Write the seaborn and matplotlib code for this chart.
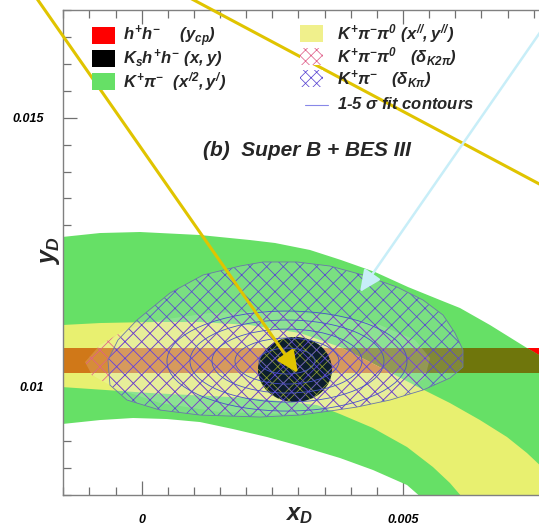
import numpy as np
import matplotlib
matplotlib.use("Agg")
import matplotlib.pyplot as plt
import seaborn as sns
from matplotlib.patches import Polygon, Ellipse, Rectangle
from matplotlib.ticker import MultipleLocator, FuncFormatter
from matplotlib.lines import Line2D

sns.set_theme(style="ticks")
plt.rcParams["font.family"] = ["Liberation Sans", "DejaVu Sans"]
plt.rcParams.update({
    "font.style": "italic",
    "font.weight": "bold",
    "mathtext.fontset": "custom",
    "mathtext.it": "Liberation Sans:italic:bold",
    "mathtext.rm": "Liberation Sans:bold",
    "mathtext.bf": "Liberation Sans:italic:bold",
    "mathtext.sf": "Liberation Sans:bold",
    "hatch.linewidth": 0.55,
})

SCALE = 1e-3  # all tables below are in units of 10^-3

# K+pi- (x'^2, y') allowed region: outline (upper edge, corner, lower edge)
kpi_x = [-1.946, -1.525, -0.798, -0.033, 1.116, 2.072, 2.551, 3.220, 3.814, 4.464,
         5.096, 5.708, 6.091, 6.665, 7.373, 7.602, 8.196, 8.770,
         8.770,
         5.517, 5.077, 4.426, 3.794, 3.029, 2.398, 1.747, 1.116, 0.484, -0.166,
         -0.798, -1.525, -1.946]
kpi_y = [12.746, 12.783, 12.857, 12.876, 12.820, 12.727, 12.672, 12.542, 12.356, 12.133,
         11.854, 11.613, 11.464, 11.148, 10.721, 10.591, 10.219, 9.848,
         7.340,
         7.804, 8.176, 8.455, 8.678, 8.900, 9.068, 9.216, 9.346, 9.402, 9.421,
         9.383, 9.309, 9.272]

# K+pi-pi0 (x'', y'') allowed region
kpipi0_x = [-1.946, -1.525, -0.798, 0.159, 1.116, 2.072, 3.029, 3.794, 4.368, 4.847,
            5.325, 5.899, 6.473, 6.990, 7.373, 7.717, 8.196, 8.578,
            6.435, 6.129, 5.899, 5.574, 5.077, 4.426, 3.794, 3.354, 2.072, 0.159,
            -1.525, -1.946]
kpipi0_y = [11.130, 11.148, 11.185, 11.204, 11.204, 11.148, 11.000, 10.740, 10.461, 10.219,
            9.978, 9.699, 9.383, 9.068, 8.770, 8.455, 7.990, 7.526,
            7.526, 7.953, 8.213, 8.510, 8.882, 9.235, 9.495, 9.662, 9.792, 9.885,
            9.996, 9.996]

# h+h- : y_CP measurement and its error
ycp_value = 10.483
ycp_error = 0.232

# Ks h+h- : (x, y) measurement
kshh_x, kshh_y = 2.933, 10.322
kshh_sx, kshh_sy = 0.708, 0.604

# strong phase delta_Kpi constraint region
dkpi_x = [-0.645, -0.454, -0.090, 0.542, 1.173, 1.881, 2.321, 2.972, 3.603, 4.235,
          4.885, 5.383, 5.766, 5.995, 6.148, 6.148, 5.899, 5.383, 4.751, 4.120,
          3.603, 3.029, 2.264, 1.116, 0.350, -0.281, -0.607]
dkpi_y = [10.498, 10.870, 11.241, 11.743, 12.077, 12.244, 12.319, 12.319, 12.244, 12.077,
          11.854, 11.613, 11.334, 11.000, 10.684, 10.368, 10.164, 9.941, 9.755, 9.625,
          9.551, 9.476, 9.439, 9.476, 9.569, 9.755, 10.033]

# strong phase delta_K2pi constraint region
dk2pi_x = [-1.085, -0.798, -0.320, 0.350, 1.307, 2.455, 3.603, 4.560, 5.230, 5.517,
           5.421, 4.942, 3.986, 2.838, 1.498, 0.350, -0.511, -0.951]
dk2pi_y = [10.461, 10.777, 11.055, 11.241, 11.371, 11.408, 11.334, 11.148, 10.870, 10.535,
           10.164, 9.848, 9.606, 9.495, 9.532, 9.699, 9.978, 10.219]

# combined fit: 1-5 sigma contours
fit_x, fit_y = 2.780, 10.479
fit_sigma = [1, 2, 3, 4, 5]
fit_half_w = [0.536, 0.995, 1.435, 1.856, 2.296]
fit_half_h = [0.241, 0.427, 0.594, 0.762, 0.929]

W, H = 539, 526
GREEN = "#66e066"
YELLOW = "#e8f070"
OLIVE = "#6f760c"
ORANGE = "#d07818"
BLUE_HATCH = "#5a46d2"
PINK_HATCH = "#e0608a"
CONTOUR = "#4850c8"

fig = plt.figure(figsize=(W / 100, H / 100), dpi=100)
fig.patch.set_facecolor("white")
ax = fig.add_axes([63.3 / W, (H - 494.5) / H, 522.6 / W, 484.5 / H])
ax.set_facecolor("white")
ax.set_xlim(-0.0015, 0.0085)
ax.set_ylim(0.008, 0.017)


def pts(xs, ys):
    return np.column_stack([np.asarray(xs) * SCALE, np.asarray(ys) * SCALE])


ylo = (ycp_value - ycp_error) * SCALE
yhi = (ycp_value + ycp_error) * SCALE

# h+h- band (visible where nothing else covers it)
ax.axhspan(ylo, yhi, color="#ff0000", lw=0, zorder=1)

green = Polygon(pts(kpi_x, kpi_y), closed=True, facecolor=GREEN, edgecolor="none", zorder=2)
ax.add_patch(green)
band_on_green = ax.axhspan(ylo, yhi, color=OLIVE, lw=0, zorder=3)
band_on_green.set_clip_path(green)

yellow = Polygon(pts(kpipi0_x, kpipi0_y), closed=True, facecolor=YELLOW, edgecolor="none", zorder=4)
ax.add_patch(yellow)
band_on_yellow = ax.axhspan(ylo, yhi, color=ORANGE, lw=0, zorder=5)
band_on_yellow.set_clip_path(yellow)

# delta_K2pi region
ax.add_patch(Polygon(pts(dk2pi_x, dk2pi_y), closed=True, facecolor="white", alpha=0.15,
                     edgecolor="none", zorder=6))
ax.add_patch(Polygon(pts(dk2pi_x, dk2pi_y), closed=True, facecolor="none",
                     edgecolor=PINK_HATCH, hatch="xx", lw=0, zorder=6.5))

# delta_Kpi region (light fill)
ax.add_patch(Polygon(pts(dkpi_x, dkpi_y), closed=True, facecolor="#d8dcff", alpha=0.18,
                     edgecolor="none", zorder=7))

# Ks h+h- measurement
ax.add_patch(Ellipse((kshh_x * SCALE, kshh_y * SCALE), 2 * kshh_sx * SCALE, 2 * kshh_sy * SCALE,
                     facecolor="#0c1e2e", edgecolor="#8fa030", hatch="xxx", lw=0, zorder=7.5))

# delta_Kpi region (hatch and outline)
ax.add_patch(Polygon(pts(dkpi_x, dkpi_y), closed=True, facecolor="none",
                     edgecolor=BLUE_HATCH, hatch="xx", lw=0, zorder=8.5))
ax.add_patch(Polygon(pts(dkpi_x, dkpi_y), closed=True, facecolor="none",
                     edgecolor="#6a78a8", lw=0.6, zorder=8.6))

# fit contours
for n, hw, hh in zip(fit_sigma, fit_half_w, fit_half_h):
    ax.add_patch(Ellipse((fit_x * SCALE, fit_y * SCALE), 2 * hw * SCALE, 2 * hh * SCALE,
                         facecolor="none", edgecolor=CONTOUR, lw=0.6, zorder=9))

# axes styling
ax.xaxis.set_major_locator(MultipleLocator(0.005))
ax.xaxis.set_minor_locator(MultipleLocator(0.0005))
ax.yaxis.set_major_locator(MultipleLocator(0.005))
ax.yaxis.set_minor_locator(MultipleLocator(0.0005))
fmt = FuncFormatter(lambda v, p: f"{round(v, 6):g}")
ax.xaxis.set_major_formatter(fmt)
ax.yaxis.set_major_formatter(fmt)
ax.tick_params(which="both", direction="in", top=True, right=True, color="#707070",
               labelsize=9, labelcolor="black")
ax.tick_params(which="major", length=10, width=0.9)
ax.tick_params(which="minor", length=6, width=0.9)
ax.tick_params(axis="y", which="major", pad=14)
ax.tick_params(axis="x", which="major", pad=14)
for s in ax.spines.values():
    s.set_color("#808080")
    s.set_linewidth(1.0)
    s.set_zorder(20)


def fx(x):
    return x / W


def fy(y):
    return 1 - y / H


# titles and axis labels
fig.text(fx(307), fy(150), "(b)  Super B + BES III", ha="center", va="center", fontsize=15)
fig.text(fx(50), fy(250), r"$y_{D}$", ha="center", va="center", rotation=90, fontsize=18)
fig.text(fx(299), fy(520), r"$x_{D}$", ha="center", va="baseline", fontsize=17)

# legend
leg_rows = [
    (92, 27, "#ff0000", None, None, r"$h^{+}h^{-}\quad\ (y_{cp})$", 123, 36),
    (92, 50, "#000000", None, None, r"$K_{s}h^{+}h^{-}\ (x,y)$", 123, 59),
    (92, 73, GREEN, None, None, r"$K^{+}\mathrm{\pi}^{-}\ \ (x^{/2},y^{/})$", 123, 82),
    (300, 25, "#f0f08c", None, None, r"$K^{+}\mathrm{\pi}^{-}\mathrm{\pi}^{0}\ (x^{//},y^{//})$", 337, 34),
    (300, 48, "white", "xxx", PINK_HATCH, r"$K^{+}\mathrm{\pi}^{-}\mathrm{\pi}^{0}\ \ \ (\mathrm{\delta}_{K2\mathrm{\pi}})$", 337, 57),
    (300, 70, "white", "xxx", BLUE_HATCH, r"$K^{+}\mathrm{\pi}^{-}\ \ \ (\mathrm{\delta}_{K\mathrm{\pi}})$", 337, 80),
]
for x0, y0, fc, hatch, hc, label, tx, ty in leg_rows:
    fig.add_artist(Rectangle((fx(x0), fy(y0 + 17)), 23 / W, 17 / H, transform=fig.transFigure,
                             facecolor=fc, edgecolor=hc if hc else "none", hatch=hatch, lw=0))
    fig.text(fx(tx), fy(ty), label, ha="left", va="center", fontsize=12)
fig.add_artist(Line2D([fx(305), fx(328)], [fy(105), fy(105)], transform=fig.transFigure,
                      color="#8888e8", lw=0.8))
fig.text(fx(337), fy(104), r"1-5 $\mathrm{\sigma}$ fit contours", ha="left", va="center", fontsize=12)


# annotation arrows
def fig_px(x, y):
    return (x, H - y)


ann = dict(xycoords="figure pixels", textcoords="figure pixels", annotation_clip=False, zorder=30)
ax.annotate("", xy=fig_px(298, 373), xytext=fig_px(33, -7),
            arrowprops=dict(arrowstyle="-|>,head_length=0.65,head_width=0.3", color="#e0c400",
                            lw=2.2, mutation_scale=20, shrinkA=0, shrinkB=0), **ann)
ax.annotate("", xy=fig_px(560, 195), xytext=fig_px(190, -2),
            arrowprops=dict(arrowstyle="-", color="#e0c400", lw=2.2, shrinkA=0, shrinkB=0), **ann)
ax.annotate("", xy=fig_px(360, 292), xytext=fig_px(550, 18),
            arrowprops=dict(arrowstyle="-|>,head_length=0.65,head_width=0.3", color="#c8eef8",
                            lw=1.8, mutation_scale=20, shrinkA=0, shrinkB=0), **ann)

fig.savefig("out.png", dpi=100)
